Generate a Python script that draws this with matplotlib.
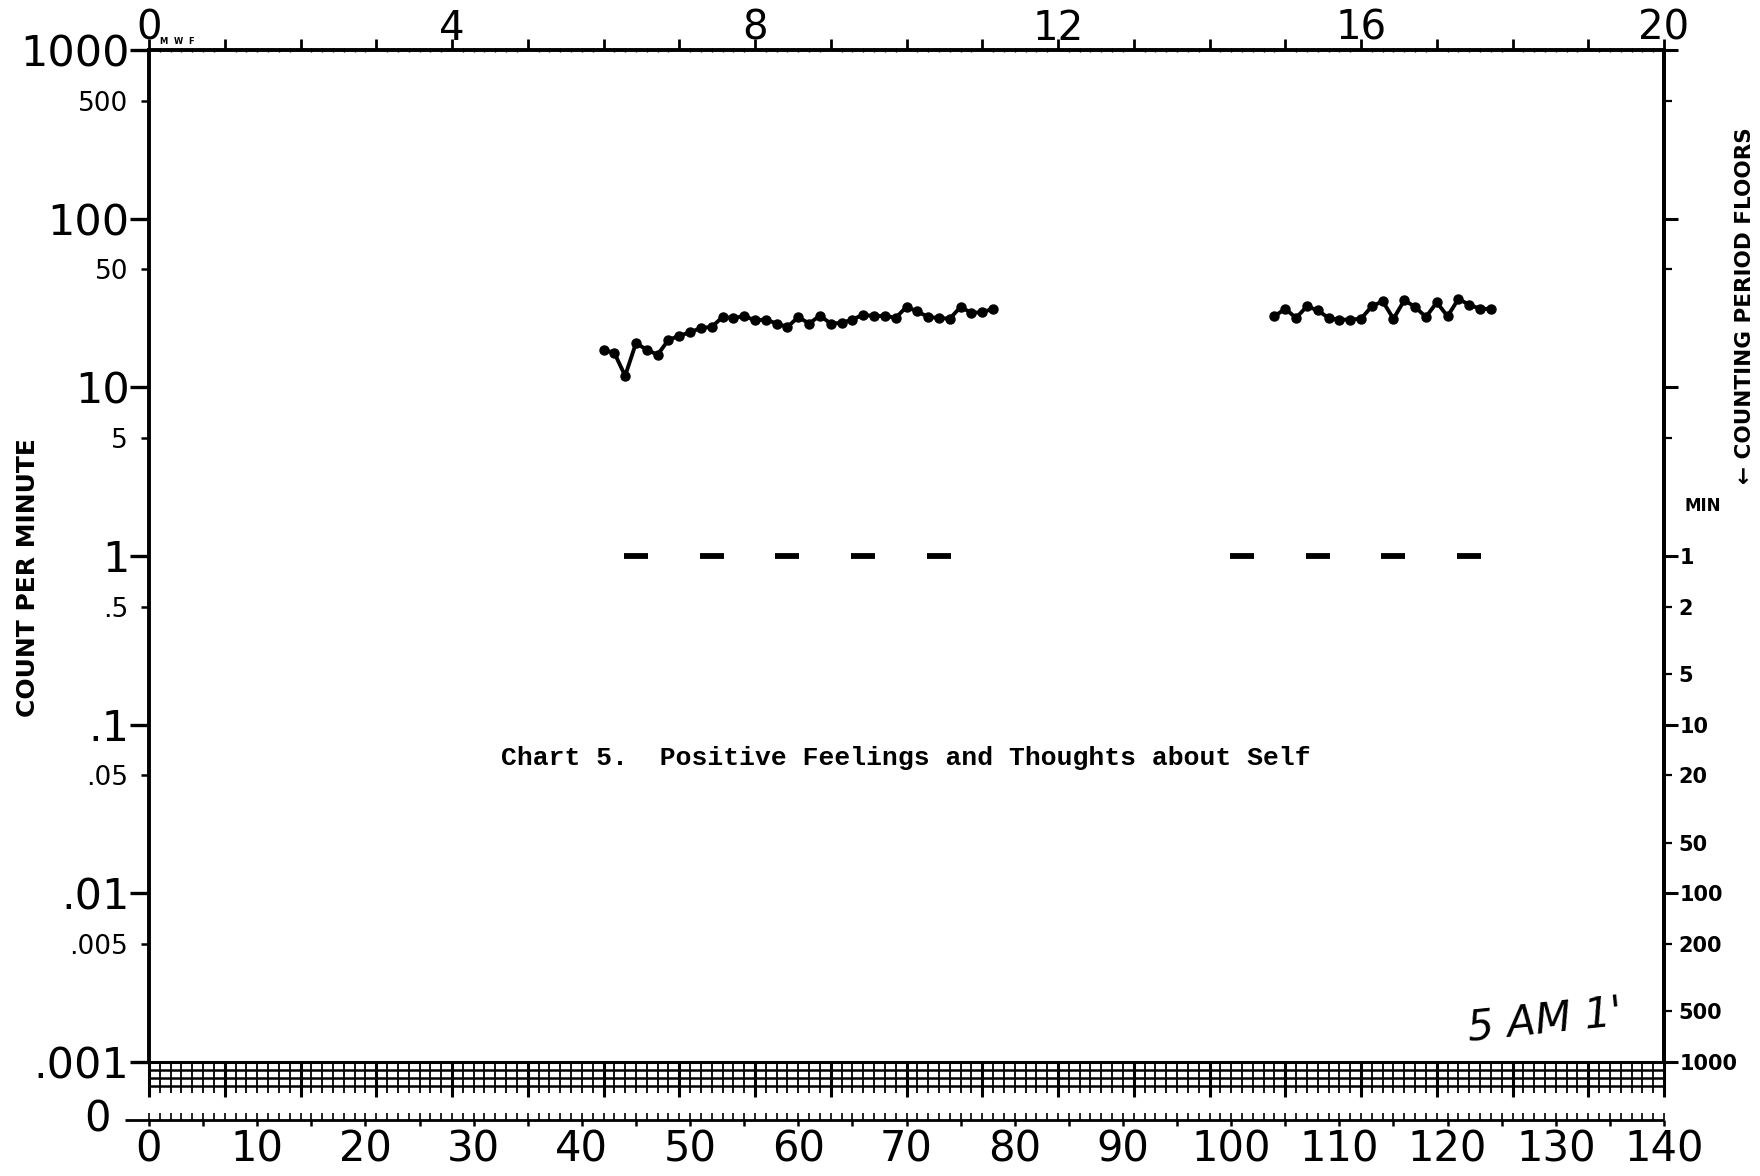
import numpy as np
import matplotlib.pyplot as plt
from matplotlib.ticker import FixedLocator, FixedFormatter
from matplotlib.transforms import blended_transform_factory

plt.rcParams['font.family'] = 'DejaVu Sans'

# --- data ---
days_a = list(range(42, 79))
counts_a = [16.7, 16.0, 11.7, 18.3, 16.7, 15.6, 19.1, 20.2, 21.2, 22.5, 22.8,
            26.1, 25.8, 26.4, 25.0, 25.2, 23.9, 22.8, 26.1, 23.9, 26.6, 23.9,
            24.1, 25.2, 27.0, 26.4, 26.6, 25.8, 30.0, 28.2, 26.1, 25.8, 25.5,
            30.0, 27.6, 27.9, 29.2]
days_b = list(range(104, 125))
counts_b = [26.4, 29.2, 25.8, 30.2, 28.6, 25.8, 25.2, 25.2, 25.5, 30.2, 32.4,
            25.5, 32.8, 30.0, 26.1, 31.9, 26.4, 33.4, 30.9, 29.2, 29.2]
floor_days = [45, 52, 59, 66, 73, 101, 108, 115, 122]
floor_vals = [1, 1, 1, 1, 1, 1, 1, 1, 1]

left_major = [1000, 100, 10, 1, 0.1, 0.01, 0.001]
left_major_labels = ['1000', '100', '10', '1', '.1', '.01', '.001']
left_minor = [500, 50, 5, 0.5, 0.05, 0.005]
left_minor_labels = ['500', '50', '5', '.5', '.05', '.005']
right_major_labels = ['', '', '', '1', '10', '100', '1000']
right_minor = [500, 50, 5, 0.5, 0.2, 0.05, 0.02, 0.005, 0.002]
right_minor_labels = ['', '', '', '2', '5', '20', '50', '200', '500']
week_ticks = list(range(0, 141, 7))
week_labels = [str(d // 7) if d % 28 == 0 else '' for d in week_ticks]
day_labels = list(range(0, 141, 10))

W, H = 1760, 1176


def rect(l, t, r, b):
    return [l / W, 1 - b / H, (r - l) / W, (b - t) / H]


fig = plt.figure(figsize=(W / 100, H / 100), dpi=100)

# main log panel
ax = fig.add_axes(rect(149, 50, 1664, 1062))
ax.set_yscale('log')
ax.set_ylim(0.001, 1000)
ax.set_xlim(0, 140)
for s in ax.spines.values():
    s.set_linewidth(2.8)
ax.spines['bottom'].set_linewidth(2.2)

ax.plot(days_a, counts_a, '-o', color='k', lw=2.8, ms=6.5)
ax.plot(days_b, counts_b, '-o', color='k', lw=2.8, ms=6.5)
ax.plot(floor_days, floor_vals, ls='none', marker='_', ms=17, mew=4.2, color='k')

ax.yaxis.set_major_locator(FixedLocator(left_major))
ax.yaxis.set_major_formatter(FixedFormatter(left_major_labels))
ax.yaxis.set_minor_locator(FixedLocator(left_minor))
ax.yaxis.set_minor_formatter(FixedFormatter(left_minor_labels))
ax.tick_params(axis='y', which='major', left=True, right=False, direction='out',
               length=14, width=2.4, labelsize=31, pad=0)
ax.tick_params(axis='y', which='minor', left=True, right=False, direction='out',
               length=6, width=1.8, labelsize=19, pad=9)

ax.set_xticks(week_ticks)
ax.set_xticklabels(week_labels)
ax.set_xticks(range(141), minor=True)
ax.tick_params(axis='x', which='major', bottom=False, top=True, labelbottom=False,
               labeltop=True, direction='out', length=8, width=2, labelsize=29, pad=-7)
ax.tick_params(axis='x', which='minor', bottom=False, top=True, direction='inout',
               length=3, width=1)

# counting period floors scale on the right
axr = ax.twinx()
axr.set_yscale('log')
axr.set_ylim(0.001, 1000)
for k, s in axr.spines.items():
    s.set_visible(k == 'right')
axr.spines['right'].set_linewidth(2.8)
axr.yaxis.set_major_locator(FixedLocator(left_major))
axr.yaxis.set_major_formatter(FixedFormatter(right_major_labels))
axr.yaxis.set_minor_locator(FixedLocator(right_minor))
axr.yaxis.set_minor_formatter(FixedFormatter(right_minor_labels))
axr.tick_params(axis='y', which='major', direction='out', length=10, width=2.2,
                labelsize=15, pad=1)
axr.tick_params(axis='y', which='minor', direction='out', length=6, width=1.6,
                labelsize=15, pad=4)
for lab in axr.get_yticklabels(which='both'):
    lab.set_fontweight('bold')

trans = blended_transform_factory(ax.transData, ax.transAxes)
ax.text(1.0, 1.004, 'M  W  F', transform=trans, fontsize=6, weight='bold',
        ha='left', va='bottom')

# ruled strip under the chart and zero row
band = fig.add_axes(rect(149, 1062, 1664, 1122))
band.set_xlim(0, 140)
band.set_ylim(60, 0)
band.axis('off')
day = np.arange(141)
band.hlines([0, 8, 16, 24], 0, 140, color='k', lw=1.8)
band.vlines(day, 0, 31, color='k', lw=1.3)
band.vlines(day[::7], 0, 35, color='k', lw=2.2, clip_on=False)
band.hlines(58, -2.2, 140, color='k', lw=2.0, clip_on=False)
band.vlines(day, 51, 58, color='k', lw=1.2, clip_on=False)
band.vlines(day[::5], 58, 64, color='k', lw=1.8, clip_on=False)
for d in day_labels:
    band.text(d, 88, str(d), ha='center', va='center', fontsize=30)
band.text(-3.5, 58, '0', ha='right', va='center', fontsize=30)

# texts
fig.text(906 / W, 1 - 758 / H, 'Chart 5.  Positive Feelings and Thoughts about Self',
         family='Liberation Mono', fontsize=19, weight='bold', ha='center', va='center')
fig.text(28 / W, 1 - 578 / H, 'COUNT PER MINUTE', rotation=90, fontsize=18,
         weight='bold', ha='center', va='center')
fig.text(1745 / W, 1 - 306 / H, '\u2190 COUNTING PERIOD FLOORS', rotation=90,
         fontsize=15.5, weight='bold', ha='center', va='center')
fig.text(1703 / W, 1 - 506 / H, 'MIN', fontsize=12, weight='bold',
         ha='center', va='center')
fig.text(1545 / W, 1 - 1020 / H, "5 AM 1'", fontsize=30, style='italic',
         rotation=6, ha='center', va='center')

fig.savefig('out.png', dpi=100)
